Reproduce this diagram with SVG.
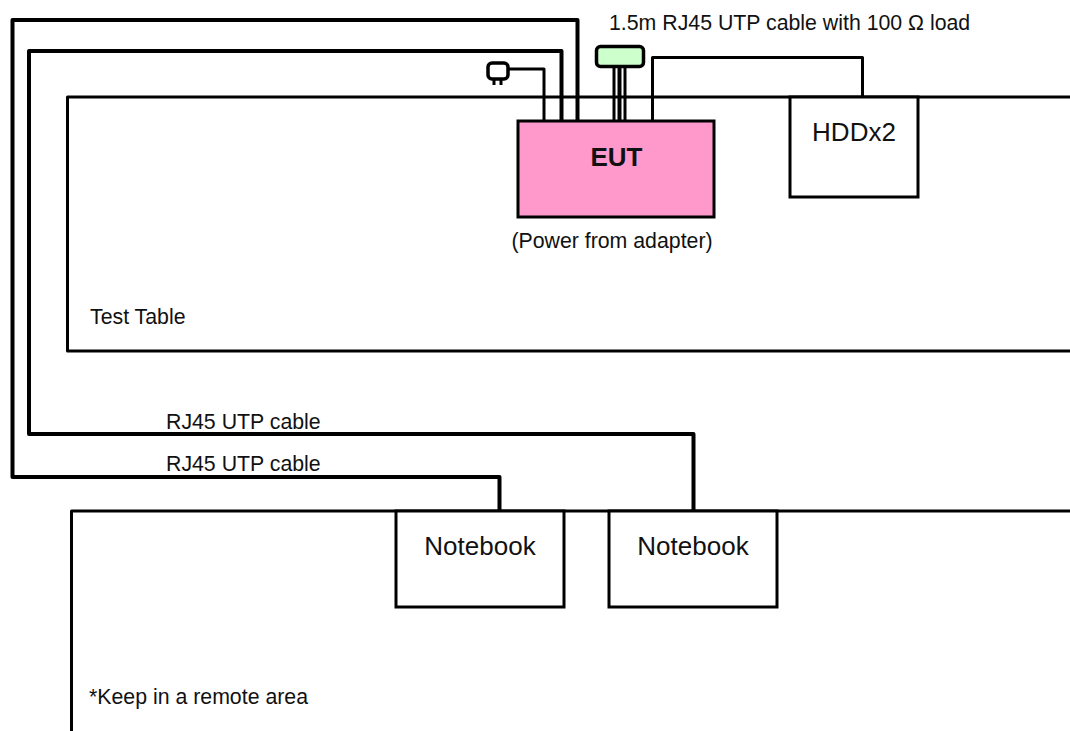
<svg xmlns="http://www.w3.org/2000/svg" width="1070" height="731" viewBox="0 0 1070 731">
<style>
text{font-family:"Liberation Sans",Arial,sans-serif;fill:#111}
.l{fill:none;stroke:#000;stroke-width:3;stroke-linejoin:round}
.w{fill:none;stroke:#000;stroke-width:4;stroke-linejoin:round}
.n{fill:#fff;stroke:#000;stroke-width:3}
.s{font-size:21.3px}
.b{font-size:26px}
</style>
<rect width="1070" height="731" fill="#fff"/>
<g id="test-table"><path class="l" d="M1070 97H67.500V351H1070"/><text class="s" x="90" y="324">Test Table</text></g>
<g id="remote-area"><path class="l" d="M1070 511H71.500V731"/><text class="s" x="89" y="704">*Keep in a remote area</text></g>
<g id="connectors">
<path class="w" d="M577.500 120V20H12.500V477H499.500V511"/>
<path class="w" d="M561.500 120V51H29V434H693.500V511"/>
<path class="l" d="M544 120V69H509"/>
<path class="l" d="M652.500 120V57.500H862.500V97"/>
<path class="l" d="M614 66V120M625 66V120"/>
<path class="w" d="M619.500 66V120"/>
</g>
<g id="plug"><rect x="488" y="63" width="20" height="16" rx="4" fill="#fff" stroke="#000" stroke-width="3.500"/><path d="M494 79v6M501 79v6" stroke="#000" stroke-width="3"/></g>
<g id="load"><rect x="596.500" y="46.500" width="47" height="20" rx="4" fill="#ccffcc" stroke="#000" stroke-width="3.500"/></g>
<g id="eut"><rect x="518" y="121" width="196" height="96" fill="#ff99cc" stroke="#000" stroke-width="3"/><text x="616.500" y="166" style="font-size:26px" font-weight="700" text-anchor="middle">EUT</text></g>
<g id="hdd"><rect class="n" x="790" y="97" width="128" height="100"/><text class="b" x="854" y="141" text-anchor="middle">HDDx2</text></g>
<g id="notebook-1"><rect class="n" x="396" y="511" width="168" height="96"/><text class="b" x="480" y="555" text-anchor="middle">Notebook</text></g>
<g id="notebook-2"><rect class="n" x="609" y="511" width="168" height="96"/><text class="b" x="693" y="555" text-anchor="middle">Notebook</text></g>
<g id="labels">
<text class="s" x="609" y="30">1.5m RJ45 UTP cable with 100 Ω load</text>
<text class="s" x="612" y="248" text-anchor="middle">(Power from adapter)</text>
<text class="s" x="166" y="429">RJ45 UTP cable</text>
<text class="s" x="166" y="471">RJ45 UTP cable</text>
</g>
</svg>
